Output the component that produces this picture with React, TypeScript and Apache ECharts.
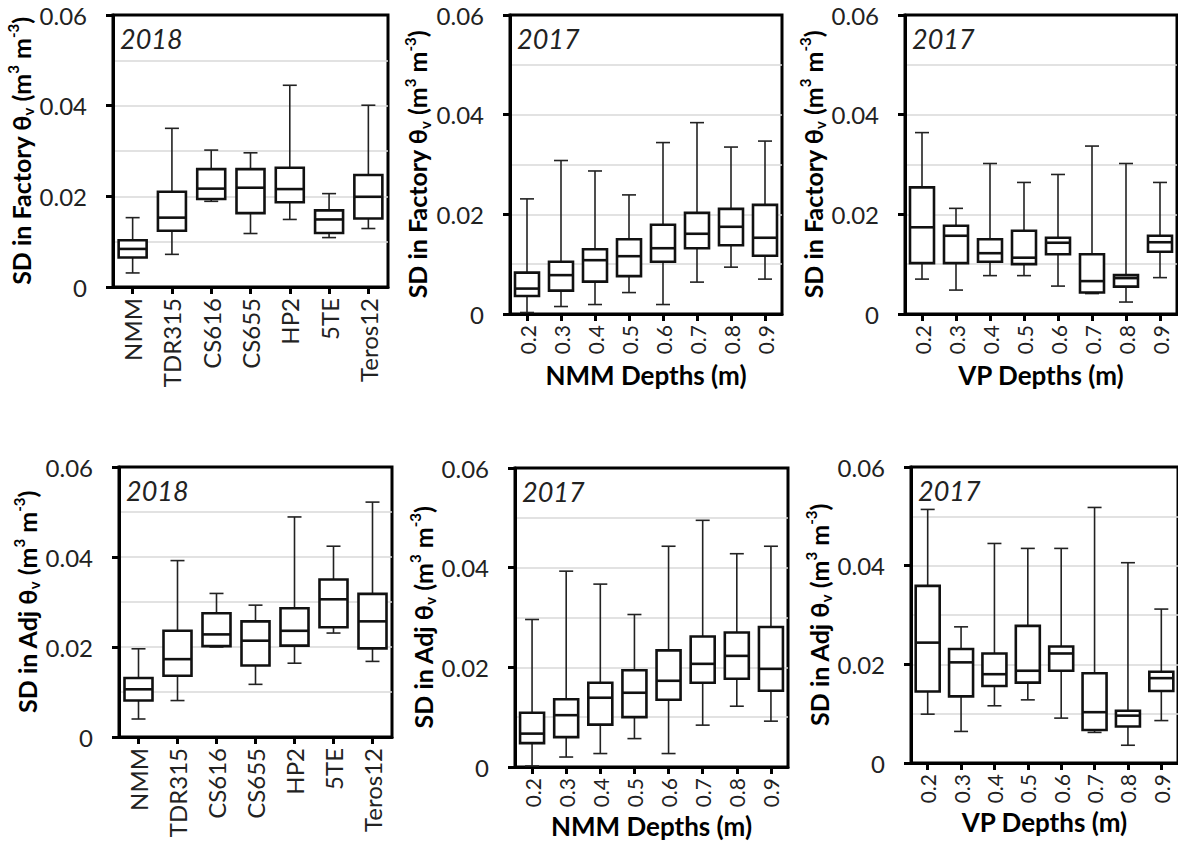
import React, { useEffect, useRef } from 'react';
import * as echarts from 'echarts';

// Categories
const sensorCats = ['NMM', 'TDR315', 'CS616', 'CS655', 'HP2', '5TE', 'Teros12'];
const depthCats = ['0.2', '0.3', '0.4', '0.5', '0.6', '0.7', '0.8', '0.9'];

// Five-number summaries: [min, q1, median, q3, max]
const factorySensors2018 = [
  [0.0031, 0.0065, 0.0084, 0.0103, 0.0153],
  [0.0072, 0.0124, 0.0153, 0.0210, 0.0350],
  [0.0189, 0.0194, 0.0217, 0.0260, 0.0302],
  [0.0118, 0.0163, 0.0219, 0.0260, 0.0296],
  [0.0149, 0.0187, 0.0216, 0.0263, 0.0445],
  [0.0109, 0.0119, 0.0149, 0.0169, 0.0206],
  [0.0129, 0.0151, 0.0199, 0.0247, 0.0401],
];
const factoryNmm2017 = [
  [0.0003, 0.0036, 0.0051, 0.0083, 0.0231],
  [0.0015, 0.0047, 0.0078, 0.0105, 0.0308],
  [0.0019, 0.0065, 0.0108, 0.0130, 0.0287],
  [0.0043, 0.0076, 0.0116, 0.0150, 0.0239],
  [0.0019, 0.0105, 0.0132, 0.0179, 0.0344],
  [0.0064, 0.0132, 0.0161, 0.0203, 0.0384],
  [0.0094, 0.0138, 0.0175, 0.0211, 0.0335],
  [0.0070, 0.0117, 0.0153, 0.0219, 0.0347],
];
const factoryVp2017 = [
  [0.0070, 0.0102, 0.0174, 0.0254, 0.0364],
  [0.0048, 0.0102, 0.0157, 0.0177, 0.0212],
  [0.0077, 0.0105, 0.0122, 0.0150, 0.0302],
  [0.0077, 0.0100, 0.0113, 0.0167, 0.0264],
  [0.0056, 0.0120, 0.0143, 0.0153, 0.0280],
  [0.0041, 0.0043, 0.0066, 0.0120, 0.0337],
  [0.0024, 0.0055, 0.0072, 0.0078, 0.0302],
  [0.0073, 0.0125, 0.0144, 0.0157, 0.0264],
];
const adjSensors2018 = [
  [0.0040, 0.0081, 0.0106, 0.0131, 0.0196],
  [0.0081, 0.0136, 0.0173, 0.0236, 0.0392],
  [0.0200, 0.0202, 0.0228, 0.0275, 0.0319],
  [0.0117, 0.0159, 0.0214, 0.0257, 0.0293],
  [0.0164, 0.0203, 0.0236, 0.0286, 0.0489],
  [0.0231, 0.0244, 0.0306, 0.0350, 0.0424],
  [0.0168, 0.0197, 0.0257, 0.0318, 0.0522],
];
const adjNmm2017 = [
  [0.0002, 0.0048, 0.0067, 0.0109, 0.0296],
  [0.0020, 0.0060, 0.0104, 0.0136, 0.0393],
  [0.0027, 0.0085, 0.0139, 0.0169, 0.0367],
  [0.0057, 0.0100, 0.0149, 0.0194, 0.0306],
  [0.0027, 0.0135, 0.0173, 0.0234, 0.0443],
  [0.0084, 0.0169, 0.0207, 0.0262, 0.0495],
  [0.0122, 0.0177, 0.0223, 0.0270, 0.0428],
  [0.0092, 0.0153, 0.0197, 0.0281, 0.0443],
];
const adjVp2017 = [
  [0.0099, 0.0145, 0.0244, 0.0359, 0.0514],
  [0.0064, 0.0135, 0.0204, 0.0231, 0.0276],
  [0.0116, 0.0156, 0.0180, 0.0222, 0.0445],
  [0.0128, 0.0163, 0.0187, 0.0278, 0.0435],
  [0.0091, 0.0187, 0.0222, 0.0236, 0.0435],
  [0.0062, 0.0067, 0.0103, 0.0182, 0.0518],
  [0.0036, 0.0074, 0.0096, 0.0106, 0.0406],
  [0.0086, 0.0146, 0.0172, 0.0185, 0.0312],
];

const FONT = 'Lato, "DejaVu Sans", sans-serif';

const panels = [
  { data: factorySensors2018, cats: sensorCats, catFont: 24, year: '2018', kind: 'Factory', xTitle: '', grid: { left: 113, top: 15, width: 275, height: 272 }, yGap: 73, xGap: 0, boxHalf: 14 },
  { data: factoryNmm2017, cats: depthCats, catFont: 21, year: '2017', kind: 'Factory', xTitle: 'NMM Depths (m)', grid: { left: 510, top: 15, width: 272, height: 299 }, yGap: 78, xGap: 46, boxHalf: 12 },
  { data: factoryVp2017, cats: depthCats, catFont: 21, year: '2017', kind: 'Factory', xTitle: 'VP Depths (m)', grid: { left: 905, top: 15, width: 272, height: 299 }, yGap: 76, xGap: 46, boxHalf: 12 },
  { data: adjSensors2018, cats: sensorCats, catFont: 24, year: '2018', kind: 'Adj', xTitle: '', grid: { left: 119, top: 467, width: 273, height: 270 }, yGap: 75, xGap: 0, boxHalf: 14 },
  { data: adjNmm2017, cats: depthCats, catFont: 21, year: '2017', kind: 'Adj', xTitle: 'NMM Depths (m)', grid: { left: 515, top: 468, width: 273, height: 299 }, yGap: 75, xGap: 41, boxHalf: 12 },
  { data: adjVp2017, cats: depthCats, catFont: 21, year: '2017', kind: 'Adj', xTitle: 'VP Depths (m)', grid: { left: 911, top: 467, width: 272, height: 296 }, yGap: 76, xGap: 44, boxHalf: 12 },
];

const richTitle = {
  t: { fontSize: 25, fontWeight: 'bold', fontFamily: FONT, color: '#000', lineHeight: 30, verticalAlign: 'middle' },
  sub: { fontSize: 15, fontWeight: 'bold', fontFamily: FONT, color: '#000', verticalAlign: 'bottom' },
  sup: { fontSize: 15, fontWeight: 'bold', fontFamily: FONT, color: '#000', verticalAlign: 'top' },
};

const makeRender = (boxHalf: number, capHalf: number) => (_params: any, api: any) => {
  const idx = api.value(0);
  const pt = (k: number) => api.coord([idx, api.value(k)]);
  const [x, yMin] = pt(1);
  const yQ1 = pt(2)[1];
  const yMed = pt(3)[1];
  const yQ3 = pt(4)[1];
  const yMax = pt(5)[1];
  const thin = { stroke: '#222', lineWidth: 1.6 };
  const thick = { stroke: '#111', lineWidth: 2.6 };
  return {
    type: 'group',
    children: [
      { type: 'line', shape: { x1: x, y1: yQ3, x2: x, y2: yMax }, style: thin },
      { type: 'line', shape: { x1: x, y1: yQ1, x2: x, y2: yMin }, style: thin },
      { type: 'line', shape: { x1: x - capHalf, y1: yMax, x2: x + capHalf, y2: yMax }, style: thin },
      { type: 'line', shape: { x1: x - capHalf, y1: yMin, x2: x + capHalf, y2: yMin }, style: thin },
      { type: 'rect', shape: { x: x - boxHalf, y: yQ3, width: boxHalf * 2, height: yQ1 - yQ3 }, style: { fill: '#fff', ...thick } },
      { type: 'line', shape: { x1: x - boxHalf, y1: yMed, x2: x + boxHalf, y2: yMed }, style: thick },
    ],
  };
};

export default function App() {
  const ref = useRef<HTMLDivElement>(null);
  useEffect(() => {
    if (!ref.current) return;
    const chart = echarts.init(ref.current, null, { renderer: 'svg' });
    const option: any = {
      animation: false,
      backgroundColor: '#fff',
      grid: panels.map((p) => ({ ...p.grid, show: true, borderColor: '#000', borderWidth: 3, backgroundColor: 'transparent' })),
      xAxis: panels.map((p, i) => ({
        gridIndex: i,
        type: 'category',
        data: p.cats,
        boundaryGap: true,
        axisLine: { show: true, lineStyle: { color: '#000', width: 3 } },
        axisTick: { show: true, alignWithLabel: true, length: 7, lineStyle: { color: '#000', width: 3 } },
        axisLabel: { rotate: 90, interval: 0, margin: 11, fontSize: p.catFont, fontFamily: FONT, color: '#222' },
        splitLine: { show: false },
        name: p.xTitle,
        nameLocation: 'middle',
        nameGap: p.xGap,
        nameTextStyle: { fontSize: 26, fontWeight: 'bold', fontFamily: FONT, color: '#000', lineHeight: 30 },
      })),
      yAxis: panels.map((p, i) => ({
        gridIndex: i,
        type: 'value',
        min: 0,
        max: 0.06,
        interval: 0.02,
        axisLine: { show: true, lineStyle: { color: '#000', width: 3 } },
        axisTick: { show: true, length: 7, lineStyle: { color: '#000', width: 3 } },
        axisLabel: {
          margin: 26,
          fontSize: 24,
          fontFamily: FONT,
          color: '#222',
          formatter: (v: number) => (v === 0 ? '0' : v.toFixed(2)),
        },
        splitLine: { show: true, showMinLine: false, showMaxLine: false, lineStyle: { color: '#d9d9d9', width: 1.5 } },
        minorTick: { show: false, splitNumber: 2 },
        minorSplitLine: { show: true, lineStyle: { color: '#d9d9d9', width: 1.5 } },
        name: `{t|SD in ${p.kind} θ}{sub|v}{t| (m}{sup|3}{t| m}{sup|-3}{t|)}`,
        nameLocation: 'middle',
        nameRotate: 90,
        nameGap: p.yGap,
        nameTextStyle: { rich: richTitle },
      })),
      series: panels.map((p, i) => ({
        type: 'custom',
        xAxisIndex: i,
        yAxisIndex: i,
        renderItem: makeRender(p.boxHalf, 7),
        encode: { x: 0, y: [1, 2, 3, 4, 5] },
        data: p.data.map((r, k) => [k, ...r]),
        z: 3,
      })),
      graphic: panels.map((p) => ({
        type: 'text',
        left: p.grid.left + 7,
        top: p.grid.top + 10,
        z: 10,
        style: { text: p.year, font: `italic 27px ${FONT}`, fill: '#222' },
      })),
    };
    chart.setOption(option);
    return () => chart.dispose();
  }, []);
  return <div ref={ref} style={{ position: 'fixed', left: 0, top: 0, width: 1178, height: 843 }} />;
}
